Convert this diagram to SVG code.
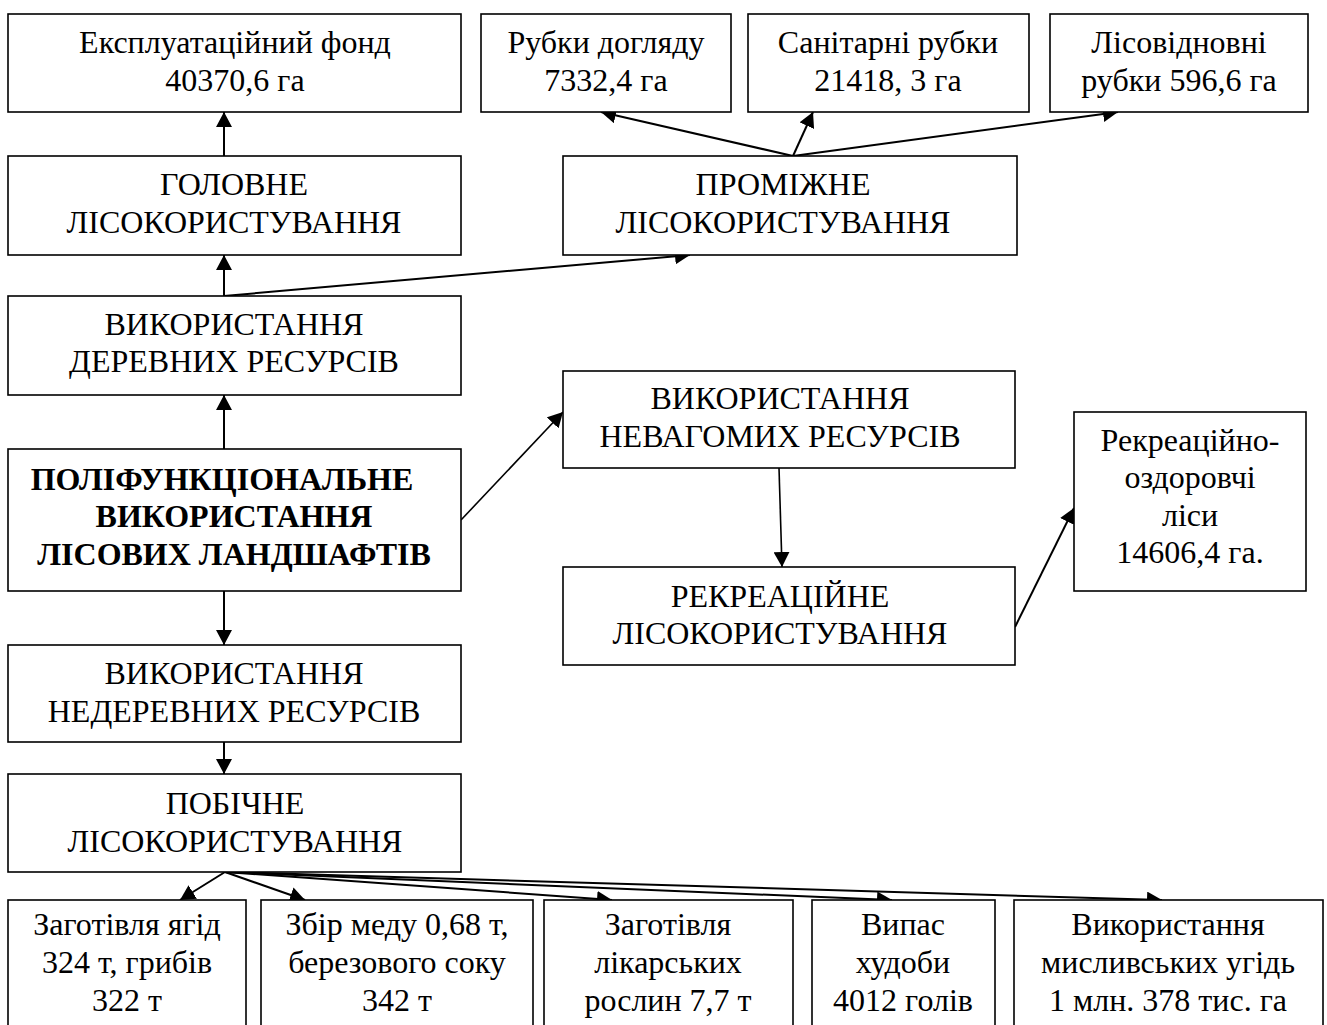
<svg xmlns="http://www.w3.org/2000/svg" width="1327" height="1025" viewBox="0 0 1327 1025">
<style>
.box{fill:#fff;stroke:#000;stroke-width:1.6}
text{font-family:"Liberation Serif","Times New Roman",serif;font-size:32px;fill:#000;text-anchor:middle}
.b{font-weight:bold}
.ln{stroke:#000;stroke-width:2;fill:none;marker-end:url(#ah)}
.thin{stroke-width:1.6}
</style>
<defs>
<marker id="ah" markerUnits="userSpaceOnUse" markerWidth="16" markerHeight="16" refX="15" refY="8" orient="auto">
<path d="M0,0 L15,8 L0,16 z" fill="#000"/>
</marker>
</defs>
<rect width="1327" height="1025" fill="#fff"/>
<g id="connectors">
<line class="ln" x1="224" y1="156" x2="224" y2="112"/>
<line class="ln" x1="224" y1="296" x2="224" y2="255"/>
<line class="ln" x1="224" y1="296" x2="690" y2="255"/>
<line class="ln" x1="793" y1="156" x2="601" y2="112"/>
<line class="ln" x1="793" y1="156" x2="813" y2="112"/>
<line class="ln" x1="793" y1="156" x2="1118" y2="112"/>
<line class="ln" x1="224" y1="449" x2="224" y2="395"/>
<line class="ln thin" x1="461" y1="520" x2="563" y2="412"/>
<line class="ln" x1="224" y1="591" x2="224" y2="645"/>
<line class="ln" x1="224" y1="742" x2="224" y2="774"/>
<line class="ln thin" x1="779" y1="468" x2="782" y2="567"/>
<line class="ln" x1="1015" y1="627" x2="1074" y2="508"/>
<line class="ln" x1="225" y1="872" x2="180" y2="900"/>
<line class="ln" x1="225" y1="872" x2="305" y2="900"/>
<line class="ln" x1="225" y1="872" x2="612" y2="900"/>
<line class="ln" x1="225" y1="872" x2="892" y2="900"/>
<line class="ln" x1="225" y1="872" x2="1162" y2="900"/>
</g>
<g id="n-eksp"><rect class="box" x="8" y="14" width="453" height="98"/><text x="235" y="53">Експлуатаційний фонд</text><text x="235" y="91">40370,6 га</text></g>
<g id="n-rubky"><rect class="box" x="481" y="14" width="250" height="98"/><text x="606" y="53">Рубки догляду</text><text x="606" y="91">7332,4 га</text></g>
<g id="n-sanit"><rect class="box" x="748" y="14" width="281" height="98"/><text x="888" y="53">Санітарні рубки</text><text x="888" y="91">21418, 3 га</text></g>
<g id="n-lisovidn"><rect class="box" x="1050" y="14" width="258" height="98"/><text x="1179" y="53">Лісовідновні</text><text x="1179" y="91">рубки 596,6 га</text></g>
<g id="n-golovne"><rect class="box" x="8" y="156" width="453" height="99"/><text x="234" y="195">ГОЛОВНЕ</text><text x="234" y="233">ЛІСОКОРИСТУВАННЯ</text></g>
<g id="n-promizhne"><rect class="box" x="563" y="156" width="454" height="99"/><text x="783" y="195">ПРОМІЖНЕ</text><text x="783" y="233">ЛІСОКОРИСТУВАННЯ</text></g>
<g id="n-derevni"><rect class="box" x="8" y="296" width="453" height="99"/><text x="234" y="335">ВИКОРИСТАННЯ</text><text x="234" y="372">ДЕРЕВНИХ РЕСУРСІВ</text></g>
<g id="n-nevagomi"><rect class="box" x="563" y="371" width="452" height="97"/><text x="780" y="409">ВИКОРИСТАННЯ</text><text x="780" y="447">НЕВАГОМИХ РЕСУРСІВ</text></g>
<g id="n-polif"><rect class="box" x="8" y="449" width="453" height="142"/><text class="b" x="222" y="490">ПОЛІФУНКЦІОНАЛЬНЕ</text><text class="b" x="234" y="527">ВИКОРИСТАННЯ</text><text class="b" x="234" y="565">ЛІСОВИХ ЛАНДШАФТІВ</text></g>
<g id="n-rekr-lisy"><rect class="box" x="1074" y="412" width="232" height="179"/><text x="1190" y="451">Рекреаційно-</text><text x="1190" y="488">оздоровчі</text><text x="1190" y="526">ліси</text><text x="1190" y="563">14606,4 га.</text></g>
<g id="n-rekreatsiyne"><rect class="box" x="563" y="567" width="452" height="98"/><text x="780" y="607">РЕКРЕАЦІЙНЕ</text><text x="780" y="644">ЛІСОКОРИСТУВАННЯ</text></g>
<g id="n-nederevni"><rect class="box" x="8" y="645" width="453" height="97"/><text x="234" y="684">ВИКОРИСТАННЯ</text><text x="234" y="722">НЕДЕРЕВНИХ РЕСУРСІВ</text></g>
<g id="n-pobichne"><rect class="box" x="8" y="774" width="453" height="98"/><text x="235" y="814">ПОБІЧНЕ</text><text x="235" y="852">ЛІСОКОРИСТУВАННЯ</text></g>
<g id="n-yagody"><rect class="box" x="8" y="900" width="238" height="140"/><text x="127" y="935">Заготівля ягід</text><text x="127" y="973">324 т, грибів</text><text x="127" y="1011">322 т</text></g>
<g id="n-med"><rect class="box" x="261" y="900" width="272" height="140"/><text x="397" y="935">Збір меду 0,68 т,</text><text x="397" y="973">березового соку</text><text x="397" y="1011">342 т</text></g>
<g id="n-likarski"><rect class="box" x="544" y="900" width="249" height="140"/><text x="668" y="935">Заготівля</text><text x="668" y="973">лікарських</text><text x="668" y="1011">рослин 7,7 т</text></g>
<g id="n-vypas"><rect class="box" x="812" y="900" width="183" height="140"/><text x="903" y="935">Випас</text><text x="903" y="973">худоби</text><text x="903" y="1011">4012 голів</text></g>
<g id="n-myslyvski"><rect class="box" x="1014" y="900" width="309" height="140"/><text x="1168" y="935">Використання</text><text x="1168" y="973">мисливських угідь</text><text x="1168" y="1011">1 млн. 378 тис. га</text></g>
</svg>
